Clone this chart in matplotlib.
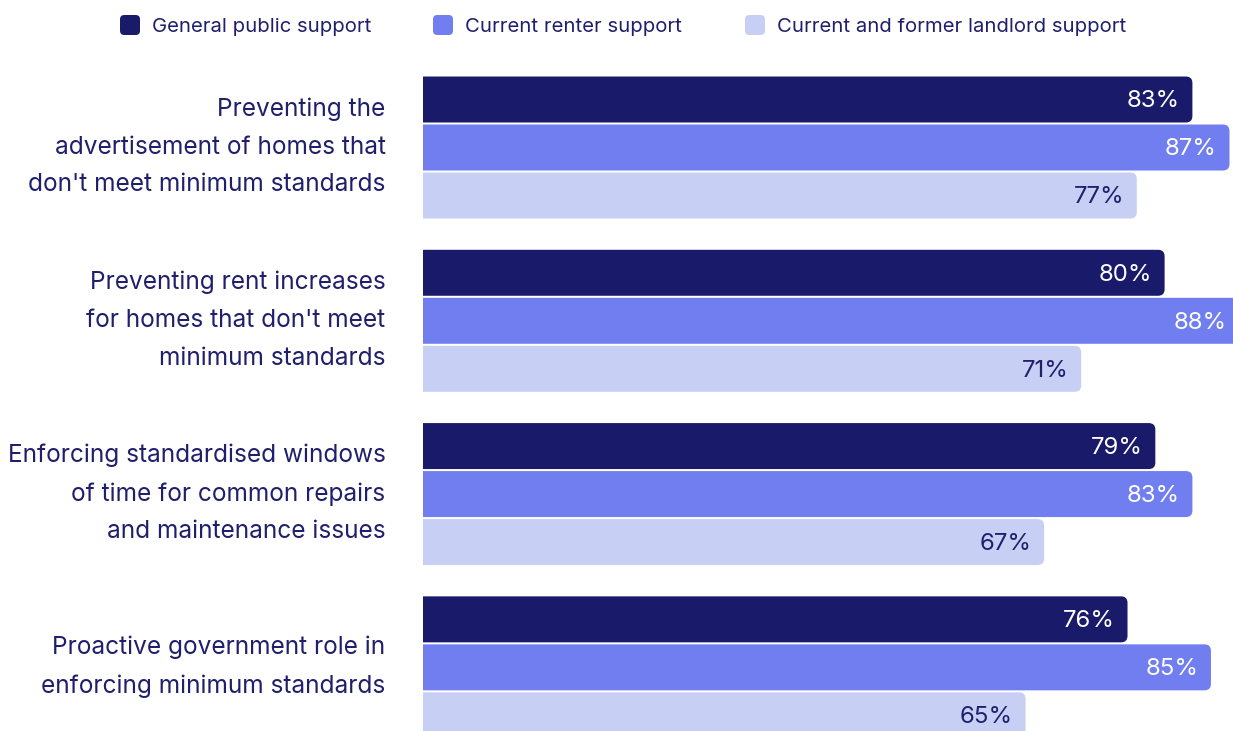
import matplotlib.pyplot as plt
from matplotlib.patches import FancyBboxPatch

# Survey results: share of each group supporting each measure (%)
measures = [
    "Preventing the\nadvertisement of homes that\ndon't meet minimum standards",
    "Preventing rent increases\nfor homes that don't meet\nminimum standards",
    "Enforcing standardised windows\nof time for common repairs\nand maintenance issues",
    "Proactive government role in\nenforcing minimum standards",
]
series_names = ["General public support", "Current renter support",
                "Current and former landlord support"]
general_public = [83, 80, 79, 76]
current_renter = [87, 88, 83, 85]
landlord = [77, 71, 67, 65]

colors = ["#1a1a6b", "#717ef0", "#c8cff5"]
label_colors = ["white", "white", "#1f1f6b"]
text_color = "#1f1f6b"

plt.rcParams['font.family'] = ['Inter', 'DejaVu Sans']

fig = plt.figure(figsize=(12.33, 7.31), dpi=100)
ax = fig.add_axes([423 / 1233, 0, 810 / 1233, 1])

group_gap = 3.61
bar_h = 0.958
centres = [i * group_gap for i in range(len(measures))]

# x scale: roughly 9.27 px per percentage point
px_per_unit_x = 9.27
px_per_unit_y = 48.0
ax.set_xlim(0, 810 / px_per_unit_x)
ax.set_ylim(731 / px_per_unit_y - 3.073, -3.073)

radius = 6.5 / px_per_unit_x
aspect = px_per_unit_x / px_per_unit_y

for k, (vals, col, lcol) in enumerate(zip([general_public, current_renter, landlord],
                                         colors, label_colors)):
    ys = [c + (k - 1) for c in centres]
    bars = ax.barh(ys, vals, height=bar_h, color=col)
    for rect, v in zip(bars, vals):
        rect.set_visible(False)
        # rounded bar; left end sits outside the axes so only the right corners show
        x0 = rect.get_x() - 3
        patch = FancyBboxPatch((x0, rect.get_y()), rect.get_width() - x0, rect.get_height(),
                               boxstyle=f"round,pad=0,rounding_size={radius}",
                               mutation_aspect=aspect, facecolor=col, edgecolor="none")
        ax.add_patch(patch)
        ax.text(v - 12.5 / px_per_unit_x, rect.get_y() + rect.get_height() / 2 + 0.04,
                f"{v}%", ha="right", va="center", fontsize=17.3, color=lcol)

ax.set_yticks([c - 0.22 for c in centres], measures, fontsize=17.6, color=text_color,
              linespacing=1.82)
ax.tick_params(axis="y", length=0, pad=27)
ax.set_xticks([])
for s in ax.spines.values():
    s.set_visible(False)

# legend along the top
legend_x = [120, 433, 745]
for name, col, lx in zip(series_names, colors, legend_x):
    fig.patches.append(FancyBboxPatch((lx / 1233, 1 - 35 / 731), 20 / 1233, 20 / 731,
                                      boxstyle="round,pad=0,rounding_size=0.0035",
                                      mutation_aspect=1233 / 731,
                                      transform=fig.transFigure, facecolor=col,
                                      edgecolor="none"))
    fig.text((lx + 32) / 1233, 1 - 26.5 / 731, name, fontsize=14.6, color=text_color,
             ha="left", va="center")

fig.savefig("out.png", dpi=100)
